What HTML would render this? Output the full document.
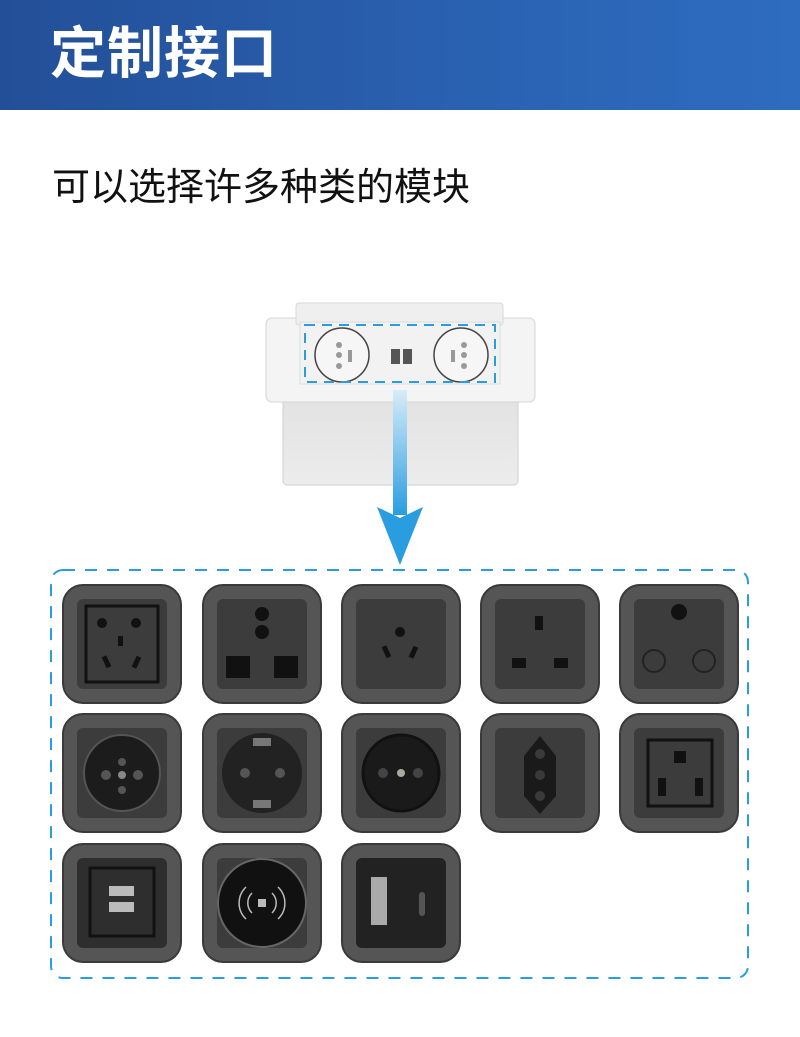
<!DOCTYPE html>
<html><head><meta charset="utf-8"><style>
html,body{margin:0;padding:0;width:800px;height:1037px;background:#fff;overflow:hidden;font-family:"Liberation Sans","Noto Sans CJK SC",sans-serif}
.hdr{position:absolute;left:0;top:0;width:800px;height:110px;background:linear-gradient(90deg,#234f98,#2a62b2 60%,#2e6cc0)}
.hdr span{position:absolute;left:50px;top:22px;font-size:56px;font-weight:bold;color:#fff;letter-spacing:1px;line-height:64px}
.sub{position:absolute;left:52px;top:165px;font-size:38px;color:#111;line-height:46px}
svg{position:absolute;left:0;top:0}
</style></head><body>
<div class="hdr"><span>定制接口</span></div>
<div class="sub">可以选择许多种类的模块</div>
<svg width="800" height="1037" viewBox="0 0 800 1037">
<defs>
<linearGradient id="ar" x1="0" y1="0" x2="0" y2="1"><stop offset="0" stop-color="#d8ecf8"/><stop offset="1" stop-color="#2a9de0"/></linearGradient>
<linearGradient id="bx" x1="0" y1="0" x2="0" y2="1"><stop offset="0" stop-color="#e2e2e2"/><stop offset="1" stop-color="#ececec"/></linearGradient>
</defs>
<rect x="283" y="395" width="235" height="90" rx="4" fill="url(#bx)" stroke="#d0d0d0"/>
<rect x="266" y="318" width="269" height="84" rx="6" fill="#f4f4f4" stroke="#d4d4d4"/>
<rect x="296" y="303" width="207" height="22" rx="3" fill="#efefef" stroke="#d8d8d8"/>
<rect x="300" y="322" width="200" height="62" fill="#f2f2f2" stroke="#ddd"/>
<circle cx="342" cy="355" r="27" fill="#f6f6f6" stroke="#444" stroke-width="1.5"/>
<circle cx="461" cy="355" r="27" fill="#f6f6f6" stroke="#444" stroke-width="1.5"/>
<circle cx="339" cy="345" r="3" fill="#999"/><circle cx="339" cy="366" r="3" fill="#999"/><circle cx="339" cy="355" r="3" fill="#999"/><rect x="348" y="350" width="4" height="12" fill="#999"/>
<circle cx="464" cy="345" r="3" fill="#999"/><circle cx="464" cy="366" r="3" fill="#999"/><circle cx="464" cy="355" r="3" fill="#999"/><rect x="451" y="350" width="4" height="12" fill="#999"/>
<rect x="391" y="349" width="9" height="15" fill="#555"/><rect x="403" y="349" width="9" height="15" fill="#555"/>
<rect x="305" y="325" width="190" height="57" fill="none" stroke="#2a9de0" stroke-width="2" stroke-dasharray="10 7"/>
<rect x="393" y="390" width="14" height="125" fill="url(#ar)"/>
<polygon points="377,507 400,565 423,507 400,518" fill="#2a9de0"/>
<rect x="51" y="570" width="697" height="408" rx="12" fill="none" stroke="#2a9de0" stroke-width="2" stroke-dasharray="12 10"/>
<g fill="#555" stroke="#3a3a3a" stroke-width="2">
<rect x="63" y="585" width="118" height="118" rx="20"/><rect x="203" y="585" width="118" height="118" rx="20"/><rect x="342" y="585" width="118" height="118" rx="20"/><rect x="481" y="585" width="118" height="118" rx="20"/><rect x="620" y="585" width="118" height="118" rx="20"/>
<rect x="63" y="714" width="118" height="118" rx="20"/><rect x="203" y="714" width="118" height="118" rx="20"/><rect x="342" y="714" width="118" height="118" rx="20"/><rect x="481" y="714" width="118" height="118" rx="20"/><rect x="620" y="714" width="118" height="118" rx="20"/>
<rect x="63" y="844" width="118" height="118" rx="20"/><rect x="203" y="844" width="118" height="118" rx="20"/><rect x="342" y="844" width="118" height="118" rx="20"/>
</g>
<g fill="#3c3c3c">
<rect x="77" y="599" width="90" height="90" rx="6"/><rect x="217" y="599" width="90" height="90" rx="6"/><rect x="356" y="599" width="90" height="90" rx="6"/><rect x="495" y="599" width="90" height="90" rx="6"/><rect x="634" y="599" width="90" height="90" rx="6"/>
<rect x="77" y="728" width="90" height="90" rx="6"/><rect x="217" y="728" width="90" height="90" rx="6"/><rect x="356" y="728" width="90" height="90" rx="6"/><rect x="495" y="728" width="90" height="90" rx="6"/><rect x="634" y="728" width="90" height="90" rx="6"/>
<rect x="77" y="858" width="90" height="90" rx="6" fill="#2e2e2e"/><rect x="217" y="858" width="90" height="90" rx="6"/><rect x="356" y="858" width="90" height="90" rx="6" fill="#222"/>
</g>
<g fill="#111">
<rect x="86" y="606" width="72" height="76" fill="none" stroke="#111" stroke-width="3"/>
<circle cx="102" cy="623" r="5"/><circle cx="136" cy="623" r="5"/><rect x="118" y="636" width="5" height="10"/><rect x="104" y="656" width="5" height="12" transform="rotate(-25 106 662)"/><rect x="134" y="656" width="5" height="12" transform="rotate(25 136 662)"/>
<circle cx="262" cy="614" r="7"/><circle cx="262" cy="632" r="7"/><rect x="226" y="656" width="24" height="22"/><rect x="274" y="656" width="24" height="22"/>
<circle cx="400" cy="632" r="5"/><rect x="384" y="646" width="5" height="12" transform="rotate(-25 386 652)"/><rect x="411" y="646" width="5" height="12" transform="rotate(25 413 652)"/>
<rect x="535" y="616" width="8" height="14"/><rect x="512" y="658" width="14" height="10"/><rect x="554" y="658" width="14" height="10"/>
<circle cx="679" cy="612" r="8"/><circle cx="654" cy="661" r="11" fill="none" stroke="#222" stroke-width="2"/><circle cx="704" cy="661" r="11" fill="none" stroke="#222" stroke-width="2"/>
<circle cx="122" cy="773" r="38" fill="#1c1c1c" stroke="#555" stroke-width="2"/>
<circle cx="106" cy="775" r="5" fill="#555"/><circle cx="138" cy="775" r="5" fill="#555"/><circle cx="122" cy="775" r="4" fill="#888"/><circle cx="122" cy="762" r="4" fill="#555"/><circle cx="122" cy="790" r="4" fill="#555"/>
<circle cx="262" cy="773" r="40" fill="#222"/>
<circle cx="245" cy="773" r="5" fill="#555"/><circle cx="280" cy="773" r="5" fill="#555"/><rect x="253" y="738" width="18" height="8" fill="#777"/><rect x="253" y="800" width="18" height="8" fill="#777"/>
<circle cx="401" cy="773" r="38" fill="#1a1a1a" stroke="#111" stroke-width="3"/>
<circle cx="383" cy="773" r="5" fill="#444"/><circle cx="418" cy="773" r="5" fill="#444"/><circle cx="401" cy="773" r="4" fill="#aa9"/>
<path d="M540 736 L556 756 L556 796 L540 814 L524 796 L524 756 Z" fill="#1a1a1a"/>
<circle cx="540" cy="754" r="5" fill="#3a3a3a"/><circle cx="540" cy="775" r="5" fill="#3a3a3a"/><circle cx="540" cy="796" r="5" fill="#3a3a3a"/>
<rect x="648" y="740" width="64" height="66" fill="none" stroke="#111" stroke-width="3"/>
<rect x="674" y="751" width="12" height="12"/><rect x="658" y="778" width="8" height="18"/><rect x="695" y="778" width="8" height="18"/>
<rect x="90" y="868" width="64" height="68" fill="none" stroke="#111" stroke-width="3"/>
<rect x="109" y="886" width="25" height="10" fill="#bbb"/><rect x="109" y="902" width="25" height="10" fill="#bbb"/>
<circle cx="262" cy="903" r="44" fill="#111"/><circle cx="262" cy="903" r="44" fill="none" stroke="#666" stroke-width="2"/>
<g fill="none" stroke="#bbb" stroke-width="1.5"><path d="M252 893 a14 14 0 0 0 0 20"/><path d="M272 893 a14 14 0 0 1 0 20"/><path d="M246 887 a22 22 0 0 0 0 32"/><path d="M278 887 a22 22 0 0 1 0 32"/></g>
<rect x="258" y="899" width="8" height="8" fill="#bbb"/>
<rect x="371" y="877" width="16" height="48" fill="#aaa"/><rect x="419" y="892" width="6" height="24" rx="3" fill="#555"/>
</g>
</svg>
</body></html>
